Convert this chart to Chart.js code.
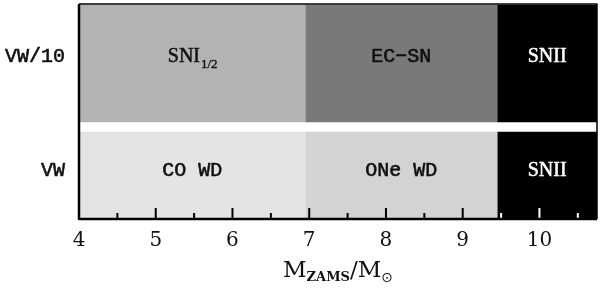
<!DOCTYPE html>
<html>
<head>
<meta charset="utf-8">
<script src="https://cdn.jsdelivr.net/npm/chart.js@4.4.0/dist/chart.umd.min.js"></script>
<style>
  html, body { margin: 0; padding: 0; background: #fff; }
  #wrap { width: 600px; height: 290px; }
</style>
</head>
<body>
<div id="wrap"><canvas id="fateChart"></canvas></div>
<script>
// mass boundaries (M_ZAMS / M_sun)
const massEdges = [4, 6.95, 9.45, 10.75];
const rows = ['VW/10', 'VW'];
// '|' marks a subscript
const fatesVW10 = ['SNI|1/2', 'EC\u2212SN', 'SNII'];
const fatesVW = ['CO WD', 'ONe WD', 'SNII'];
const xTicks = [4, 5, 6, 7, 8, 9, 10];

// layout, y in px from top of plot area
const rowCenter = [59.5, 171];
const rowHeight = [117, 86];
const rowTextY = [53, 166.5];
const fills = [
  ['#b3b3b3', '#797979', '#000000'],
  ['#e4e4e4', '#d3d3d3', '#000000']
];

const fates = [fatesVW10, fatesVW];
const datasets = [];
rows.forEach((row, r) => {
  for (let i = 0; i < massEdges.length - 1; i++) {
    datasets.push({
      label: fates[r][i],
      data: [{ x: [massEdges[i], massEdges[i + 1]], y: rowCenter[r] }],
      backgroundColor: fills[r][i],
      borderWidth: 0,
      barThickness: rowHeight[r],
      grouped: false,
      row: r
    });
  }
});

const serif = '"DejaVu Serif", serif';
const timesLike = '"Liberation Serif", serif';
const mono = '"Liberation Mono", monospace';

// fill plus a thin outline, to get the medium weight of the original
function heavyText(ctx, text, x, y, weight) {
  ctx.fillText(text, x, y);
  ctx.lineWidth = weight;
  ctx.strokeStyle = ctx.fillStyle;
  ctx.strokeText(text, x, y);
}

const decorPlugin = {
  id: 'decor',
  afterDatasetsDraw(chart) {
    const ctx = chart.ctx;
    const xs = chart.scales.x;
    const ys = chart.scales.y;
    const area = chart.chartArea;
    ctx.save();
    ctx.textBaseline = 'middle';
    ctx.lineJoin = 'round';

    // row names on the left
    ctx.font = '20px ' + mono;
    ctx.fillStyle = '#111';
    ctx.textAlign = 'right';
    rows.forEach((name, r) => {
      heavyText(ctx, name, area.left - 14, ys.getPixelForValue(rowTextY[r]), 0.6);
    });

    // labels inside the boxes
    ctx.textAlign = 'left';
    chart.data.datasets.forEach((ds, di) => {
      const el = chart.getDatasetMeta(di).data[0];
      const cx = (el.x + el.base) / 2;
      const cy = ys.getPixelForValue(rowTextY[ds.row]);
      const parts = ds.label.split('|');
      const isSN = parts[0].startsWith('SN');
      const mainFont = isSN ? '20px ' + timesLike : '20px ' + mono;
      ctx.fillStyle = ds.backgroundColor === '#000000' ? '#fff' : '#111';
      ctx.font = mainFont;
      const w1 = ctx.measureText(parts[0]).width;
      let w2 = 0;
      if (parts[1]) {
        ctx.font = '13px ' + timesLike;
        w2 = ctx.measureText(parts[1]).width;
      }
      const x0 = cx - (w1 + w2) / 2;
      ctx.font = mainFont;
      heavyText(ctx, parts[0], x0, cy, isSN ? 0.5 : 0.6);
      if (parts[1]) {
        ctx.font = '13px ' + timesLike;
        heavyText(ctx, parts[1], x0 + w1 + 1, cy + 8, 0.4);
      }
    });

    // inward ticks on the mass axis
    ctx.lineWidth = 2;
    for (let v = massEdges[0]; v < massEdges[3]; v += 0.5) {
      const px = xs.getPixelForValue(v);
      const len = Number.isInteger(v) ? 11 : 6;
      ctx.strokeStyle = v > massEdges[2] ? '#fff' : '#000';
      ctx.beginPath();
      ctx.moveTo(px, area.bottom);
      ctx.lineTo(px, area.bottom - len);
      ctx.stroke();
    }

    // frame
    ctx.strokeStyle = '#000';
    ctx.lineWidth = 2.5;
    ctx.beginPath();
    ctx.moveTo(area.left, area.top);
    ctx.lineTo(area.left, area.bottom);
    ctx.lineTo(area.right, area.bottom);
    ctx.stroke();
    ctx.lineWidth = 1.5;
    ctx.beginPath();
    ctx.moveTo(area.left, area.top);
    ctx.lineTo(area.right, area.top);
    ctx.lineTo(area.right, area.bottom);
    ctx.stroke();

    // axis title M_ZAMS / M_sun
    const ty = 271;
    const pieces = [
      ['M', '23px ' + serif, 0],
      ['ZAMS', 'bold 13px ' + serif, 7],
      ['/M', '23px ' + serif, 0],
      ['\u2299', '14px "DejaVu Sans", sans-serif', 7]
    ];
    ctx.fillStyle = '#111';
    ctx.textAlign = 'left';
    let total = 0;
    pieces.forEach(p => { ctx.font = p[1]; total += ctx.measureText(p[0]).width; });
    let tx = (area.left + area.right) / 2 - total / 2;
    pieces.forEach(p => {
      ctx.font = p[1];
      ctx.fillText(p[0], tx, ty + p[2]);
      tx += ctx.measureText(p[0]).width;
    });
    ctx.restore();
  }
};

const fateCtx = document.getElementById('fateChart');
new Chart(fateCtx, {
  type: 'bar',
  data: { datasets: datasets },
  options: {
    indexAxis: 'y',
    responsive: true,
    maintainAspectRatio: false,
    animation: false,
    layout: { padding: { top: 4, right: 3, left: 0, bottom: 0 } },
    plugins: {
      legend: { display: false },
      tooltip: { enabled: false }
    },
    scales: {
      x: {
        type: 'linear',
        min: massEdges[0],
        max: massEdges[3],
        grid: { display: false, drawTicks: false },
        border: { display: false },
        afterBuildTicks: axis => { axis.ticks = xTicks.map(v => ({ value: v })); },
        afterFit: axis => {
          axis.height = 71;
          axis.paddingLeft = 0;
          axis.paddingRight = 0;
        },
        ticks: {
          color: '#111',
          padding: 10,
          font: { family: serif, size: 20 }
        }
      },
      y: {
        type: 'linear',
        reverse: true,
        offset: false,
        min: 0,
        max: 215,
        grid: { display: false, drawTicks: false, offset: false },
        border: { display: false },
        ticks: { display: false },
        afterFit: axis => {
          axis.width = 79;
          axis.paddingTop = 0;
          axis.paddingBottom = 0;
        }
      }
    }
  },
  plugins: [decorPlugin]
});
</script>
</body>
</html>
